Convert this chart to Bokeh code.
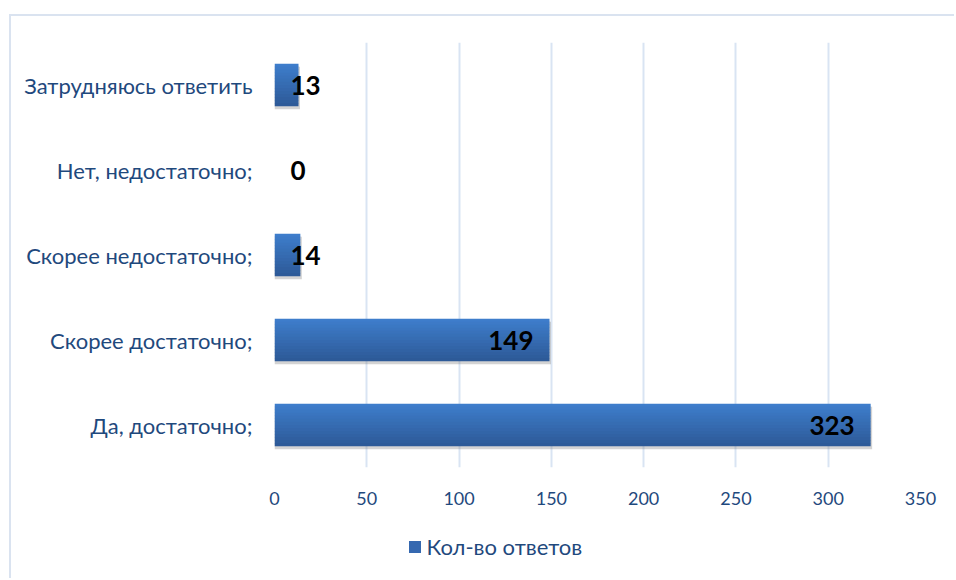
from bokeh.plotting import figure
from bokeh.layouts import column
from bokeh.models import FactorRange, Range1d, ColumnDataSource, Legend, LegendItem, FixedTicker
from bokeh.transform import dodge
from bokeh.core.properties import value
from bokeh.embed import file_html
from bokeh.resources import INLINE

categories = ["Да, достаточно;", "Скорее достаточно;", "Скорее недостаточно;",
              "Нет, недостаточно;", "Затрудняюсь ответить"]
counts = [323, 149, 14, 0, 13]
x_ticks = [0, 50, 100, 150, 200, 250, 300, 350]
series_name = "Кол-во ответов"

TEXT = "#1F497D"
GRID = "#D9E4F3"
FONT = "Lato"
BORDER = "2px solid #DAE3F0"

ox, oy = 11, 16          # canvas origin (host margin + 2px css border)
W = 956 - ox
split = 520              # page y where the legend strip begins
H = split - oy
frame_left = 274

p = figure(width=W, height=H, output_backend="svg", toolbar_location=None,
           y_range=FactorRange(factors=categories, range_padding=0),
           x_range=Range1d(0, 350),
           min_border_left=frame_left - ox, min_border_top=42 - oy,
           min_border_right=956 - 920, min_border_bottom=split - 467)
p.styles = {"border-top": BORDER, "border-left": BORDER}
p.margin = (14, 0, 0, 9)
p.outline_line_color = None
p.background_fill_color = "white"
p.border_fill_color = "white"

src = ColumnDataSource(dict(cat=categories, val=counts,
                            shadow=[v + 0.8 if v > 0 else 0 for v in counts],
                            lx=[v if v > 30 else 0 for v in counts],
                            lalign=["right" if v > 30 else "left" for v in counts],
                            loff=[-16 if v > 30 else 16 for v in counts],
                            txt=[str(v) for v in counts]))

# shadow
p.hbar(y=dodge("cat", -0.035, range=p.y_range), right="shadow", left=0, height=0.5,
       source=src, fill_color="#808080", fill_alpha=0.35, line_color=None)

# gradient bar
bh = 0.5
n = 14
top_c = (0x3E, 0x7D, 0xCB)
bot_c = (0x2D, 0x5A, 0x98)
for i in range(n):
    t = i / (n - 1)
    c = tuple(int(round(top_c[k] + (bot_c[k] - top_c[k]) * t)) for k in range(3))
    col = "#%02x%02x%02x" % c
    off = bh / 2 - (i + 0.5) * bh / n
    p.hbar(y=dodge("cat", off, range=p.y_range), right="val", left=0,
           height=bh / n * 1.08, source=src, fill_color=col, line_color=None)

p.text(x="lx", y="cat", text="txt", source=src, text_align="lalign",
       text_baseline="middle", x_offset="loff", text_font=value(FONT),
       text_font_style="bold", text_font_size="26px", text_color="black")

p.xaxis.ticker = FixedTicker(ticks=x_ticks)
for ax in (p.xaxis[0], p.yaxis[0]):
    ax.axis_line_color = None
    ax.major_tick_line_color = None
    ax.minor_tick_line_color = None
    ax.major_label_text_font = FONT
    ax.major_label_text_color = TEXT
p.xaxis.major_label_text_font_size = "18px"
p.yaxis.major_label_text_font_size = "22px"
p.xaxis.major_label_standoff = 18
p.yaxis.major_label_standoff = 16

p.xgrid.ticker = FixedTicker(ticks=x_ticks)
p.xgrid.grid_line_color = GRID
p.xgrid.grid_line_width = 2
p.ygrid.grid_line_color = None

# legend strip (its frame is aligned with the main frame by the column layout)
LH = 580 - split
lf = figure(width=W, height=LH, output_backend="svg", toolbar_location=None,
            x_range=Range1d(0, 350), y_range=FactorRange(factors=categories),
            min_border_left=0, min_border_right=0, min_border_top=0, min_border_bottom=0)
lf.styles = {"border-left": BORDER}
lf.margin = (0, 0, 0, 9)
lf.axis.visible = False
lf.grid.visible = False
lf.outline_line_color = None
# zero-width bars: nothing drawn in the strip, only the legend swatch
lr = lf.hbar(y="cat", right="val", left="val", height=0.5, source=src,
             fill_color="#3568B0", line_color=None)

legend = Legend(items=[LegendItem(label=series_name, renderers=[lr])],
                location=(406.5 - frame_left, LH - 24 - 18), orientation="horizontal",
                glyph_width=15, glyph_height=15, label_standoff=5,
                label_text_font=FONT, label_text_font_size="22px",
                label_text_color=TEXT, label_height=18,
                padding=0, margin=0, border_line_color=None,
                background_fill_alpha=0)
lf.add_layout(legend, "center")

layout = column(p, lf, spacing=0)
open("out.html", "w").write(file_html(layout, INLINE))
